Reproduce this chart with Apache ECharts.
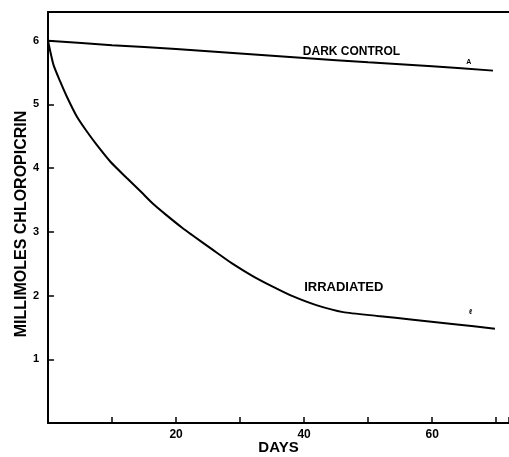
<!DOCTYPE html>
<html>
<head>
<meta charset="utf-8">
<script src="https://cdn.jsdelivr.net/npm/echarts@6/dist/echarts.min.js"></script>
<style>html,body{margin:0;padding:0;background:#fff;}#c{width:509px;height:457px;}</style>
</head>
<body>
<div id="c"></div>
<script>
// Data
const darkDays   = [0, 10, 20, 30, 40, 50, 60, 69.5];
const darkValues = [6.0, 5.93, 5.87, 5.80, 5.73, 5.66, 5.60, 5.53];
const irrDays    = [0, 0.86, 1.9, 2.95, 4.5, 6.1, 7.65, 9.75, 12.35, 14.6, 16.4, 18.4, 21, 22.5, 25.7, 28.8, 31.9, 35.1, 38.2, 41.9, 46.1, 51.5, 57, 63.5, 69.8];
const irrValues  = [6.0, 5.62, 5.36, 5.12, 4.81, 4.57, 4.36, 4.10, 3.84, 3.62, 3.44, 3.27, 3.06, 2.95, 2.72, 2.50, 2.31, 2.14, 1.99, 1.85, 1.74, 1.68, 1.62, 1.55, 1.48];
const xTickLabels = ['20', '40', '60'];
const yTickLabels = ['1', '2', '3', '4', '5', '6'];
const seriesNames = ['DARK CONTROL', 'IRRADIATED'];
const darkLabelPos = [47.4, 5.83];
const irrLabelPos  = [46.2, 2.12];
const tinyMarks = [{ text: 'A', pos: [65.7, 5.66] }, { text: 'ℓ', pos: [66.0, 1.74] }];

const font = 'Liberation Sans, Arial, sans-serif';
const pair = (xs, ys) => xs.map((x, i) => [x, ys[i]]);

const chart = echarts.init(document.getElementById('c'), null, { renderer: 'canvas' });
chart.setOption({
  backgroundColor: '#fff',
  animation: false,
  grid: { left: 48, right: 0, top: 12, bottom: 34, containLabel: false, outerBoundsMode: 'none' },
  xAxis: [{
    type: 'value', min: 0, max: 72, interval: 10,
    name: 'DAYS', nameLocation: 'middle', nameGap: 17, nameMoveOverlap: false,
    nameTextStyle: { color: '#000', fontFamily: font, fontWeight: 'bold', fontSize: 15 },
    axisLine: { show: true, onZero: false, lineStyle: { color: '#000', width: 2 } },
    axisTick: { show: true, inside: true, length: 6, lineStyle: { color: '#000', width: 1.5 } },
    axisLabel: {
      color: '#000', fontFamily: font, fontWeight: 'bold', fontSize: 12, margin: 6,
      formatter: v => xTickLabels.includes(String(v)) ? String(v) : ''
    },
    splitLine: { show: false }
  }, {
    type: 'value', min: 0, max: 72, position: 'top',
    axisLine: { show: true, onZero: false, lineStyle: { color: '#000', width: 2 } },
    axisTick: { show: false }, axisLabel: { show: false }, splitLine: { show: false }
  }],
  yAxis: {
    type: 'value', min: 0, max: 6.45, interval: 1,
    name: 'MILLIMOLES CHLOROPICRIN', nameLocation: 'middle', nameGap: 18, nameRotate: 90, nameMoveOverlap: false,
    nameTextStyle: { color: '#000', fontFamily: font, fontWeight: 'bold', fontSize: 16, padding: [0, 13, 0, 0] },
    axisLine: { show: true, onZero: false, lineStyle: { color: '#000', width: 2 } },
    axisTick: { show: true, inside: true, length: 6, lineStyle: { color: '#000', width: 1.5 } },
    axisLabel: {
      color: '#000', fontFamily: font, fontWeight: 'bold', fontSize: 11, margin: 9,
      formatter: v => yTickLabels.includes(String(v)) ? String(v) : ''
    },
    splitLine: { show: false }
  },
  series: [{
    name: seriesNames[0], type: 'line', data: pair(darkDays, darkValues),
    smooth: 0.2, showSymbol: false, lineStyle: { color: '#000', width: 2 },
    markPoint: {
      symbol: 'circle', symbolSize: 0,
      label: { show: true, color: '#000', fontFamily: font, fontWeight: 'bold', fontSize: 12, formatter: p => p.name },
      data: [{ name: seriesNames[0], coord: darkLabelPos },
             { name: tinyMarks[0].text, coord: tinyMarks[0].pos, label: { fontSize: 7 } }]
    }
  }, {
    name: seriesNames[1], type: 'line', data: pair(irrDays, irrValues),
    smooth: 0.2, showSymbol: false, lineStyle: { color: '#000', width: 2 },
    markPoint: {
      symbol: 'circle', symbolSize: 0,
      label: { show: true, color: '#000', fontFamily: font, fontWeight: 'bold', fontSize: 13, formatter: p => p.name },
      data: [{ name: seriesNames[1], coord: irrLabelPos },
             { name: tinyMarks[1].text, coord: tinyMarks[1].pos, label: { fontSize: 7 } }]
    }
  }]
});
</script>
</body>
</html>
